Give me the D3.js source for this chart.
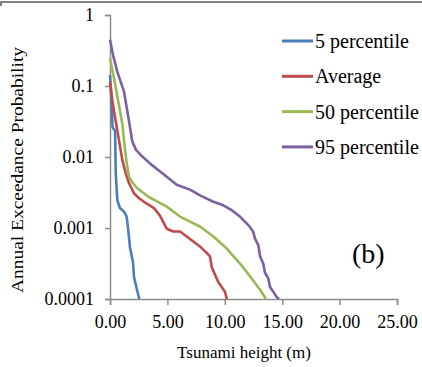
<!DOCTYPE html>
<html>
<head>
<meta charset="utf-8">
<script src="https://cdn.jsdelivr.net/npm/d3@7"></script>
<style>
  html, body { margin: 0; padding: 0; background: #fff; }
</style>
</head>
<body>
<div id="chart"></div>
<script>
// tick values and labels
const yTicks = [1, 0.1, 0.01, 0.001, 0.0001];
const yTickLabels = ["1", "0.1", "0.01", "0.001", "0.0001"];
const xTicks = [0, 5, 10, 15, 20, 25];
const xTickLabels = ["0.00", "5.00", "10.00", "15.00", "20.00", "25.00"];

const seriesNames = ["5 percentile", "Average", "50 percentile", "95 percentile"];
const seriesColors = ["#4A7EBB", "#BE4B48", "#98B954", "#7D60A0"];

// tsunami height (m) vs annual exceedance probability
const heightP5 = [0, 0.13, 0.22, 0.44, 0.5, 0.64, 0.87, 1.22, 1.45, 1.57, 1.74, 2.0, 2.09, 2.35, 2.55];
const probP5 = [0.143, 0.0631, 0.0263, 0.0234, 0.00589, 0.00245, 0.00191, 0.0017, 0.00145, 0.001, 0.000537, 0.000331, 0.000204, 0.000135, 0.0001];

const heightAvg = [0, 0.2, 0.35, 0.78, 1.07, 1.37, 1.66, 2.09, 2.53, 2.96, 3.83, 4.36, 4.94, 5.51, 6.10, 6.68, 7.26, 7.84, 8.42, 8.71, 8.86, 9.15, 9.43, 9.73, 10.02, 10.17];
const probAvg = [0.115, 0.0631, 0.0437, 0.0174, 0.00912, 0.00589, 0.00427, 0.00309, 0.00263, 0.00234, 0.00191, 0.00148, 0.000977, 0.000891, 0.000891, 0.000759, 0.000646, 0.00055, 0.000447, 0.000398, 0.000282, 0.000219, 0.000174, 0.000148, 0.000126, 0.0001];

const heightP50 = [0, 0.35, 0.78, 1.09, 1.26, 1.44, 1.66, 2.0, 2.38, 3.25, 4.94, 6.10, 6.97, 7.84, 9.00, 10.17, 11.32, 12.34, 13.07, 13.59];
const probP50 = [0.245, 0.129, 0.0537, 0.0282, 0.0148, 0.00851, 0.00525, 0.00427, 0.00363, 0.00282, 0.002, 0.00145, 0.00123, 0.00105, 0.000759, 0.000513, 0.000316, 0.000195, 0.000135, 0.0001];

const heightP95 = [0, 0.26, 0.64, 1.22, 1.66, 1.94, 2.26, 2.67, 3.55, 4.56, 5.81, 6.97, 7.84, 9.00, 9.87, 10.60, 11.32, 12.05, 12.47, 12.63, 12.92, 13.07, 13.35, 13.50, 13.79, 13.94, 14.23, 14.52, 14.72];
const probP95 = [0.447, 0.275, 0.158, 0.0832, 0.0316, 0.0166, 0.0126, 0.0107, 0.00794, 0.00589, 0.00407, 0.00347, 0.00288, 0.00234, 0.00209, 0.00178, 0.00145, 0.0011, 0.000891, 0.000708, 0.000575, 0.000398, 0.000316, 0.000234, 0.000195, 0.000148, 0.000126, 0.000107, 0.0001];

const seriesX = [heightP5, heightAvg, heightP50, heightP95];
const seriesY = [probP5, probAvg, probP50, probP95];

const width = 422, height = 367;
const margin = { top: 15, right: 25, bottom: 68, left: 110 };
const serif = "'Liberation Serif'";

const svg = d3.select("#chart").append("svg")
  .attr("width", width)
  .attr("height", height);

// frame remnant at top
svg.append("path")
  .attr("d", "M1,6 L1,2 L422,2")
  .attr("fill", "none")
  .attr("stroke", "#595959")
  .attr("stroke-width", 1.5);

const x = d3.scaleLinear().domain([0, 25]).range([margin.left, width - margin.right]);
const y = d3.scaleLog().domain([0.0001, 1]).range([height - margin.bottom, margin.top]);

const axisColor = "#8C8C8C";

const yAxis = svg.append("g")
  .attr("transform", `translate(${margin.left},0)`)
  .call(d3.axisLeft(y).tickValues(yTicks).tickFormat((d, i) => yTickLabels[i]).tickSize(5).tickPadding(11));

const xAxis = svg.append("g")
  .attr("transform", `translate(0,${height - margin.bottom})`)
  .call(d3.axisBottom(x).tickValues(xTicks).tickFormat((d, i) => xTickLabels[i]).tickSize(6).tickPadding(10));

[xAxis, yAxis].forEach(g => {
  g.attr("font-family", null).attr("font-size", null);
  g.select(".domain").attr("stroke", axisColor).attr("stroke-width", 1.5);
  g.selectAll(".tick line").attr("stroke", axisColor).attr("stroke-width", 1.5);
  g.selectAll(".tick text")
    .style("font-family", serif)
    .style("font-size", "18px")
    .attr("fill", "#000");
});

// lines
const line = d3.line().x(d => x(d[0])).y(d => y(d[1]));
seriesNames.forEach((name, i) => {
  const pts = seriesX[i].map((h, j) => [h, seriesY[i][j]]);
  svg.append("path")
    .datum(pts)
    .attr("fill", "none")
    .attr("stroke", seriesColors[i])
    .attr("stroke-width", 2.6)
    .attr("stroke-linejoin", "round")
    .attr("d", line);
});

// legend
const legend = svg.append("g").attr("transform", "translate(282,41)");
seriesNames.forEach((name, i) => {
  const row = legend.append("g").attr("transform", `translate(0,${i * 35.3})`);
  row.append("line")
    .attr("x1", 0).attr("x2", 31)
    .attr("stroke", seriesColors[i])
    .attr("stroke-width", 3);
  row.append("text")
    .attr("x", 33)
    .attr("y", 7)
    .style("font-family", serif)
    .style("font-size", "20px")
    .text(name);
});

// panel label
svg.append("text")
  .attr("x", 352)
  .attr("y", 263)
  .style("font-family", serif)
  .style("font-size", "28px")
  .text("(b)");

// axis titles
svg.append("text")
  .attr("x", 244)
  .attr("y", 358)
  .attr("text-anchor", "middle")
  .style("font-family", serif)
  .style("font-size", "17px")
  .text("Tsunami height (m)");

svg.append("text")
  .attr("transform", "translate(23,170) rotate(-90)")
  .attr("text-anchor", "middle")
  .attr("textLength", 246)
  .attr("lengthAdjust", "spacingAndGlyphs")
  .style("font-family", serif)
  .style("font-size", "16px")
  .text("Annual  Exceedance  Probability");
</script>
</body>
</html>
